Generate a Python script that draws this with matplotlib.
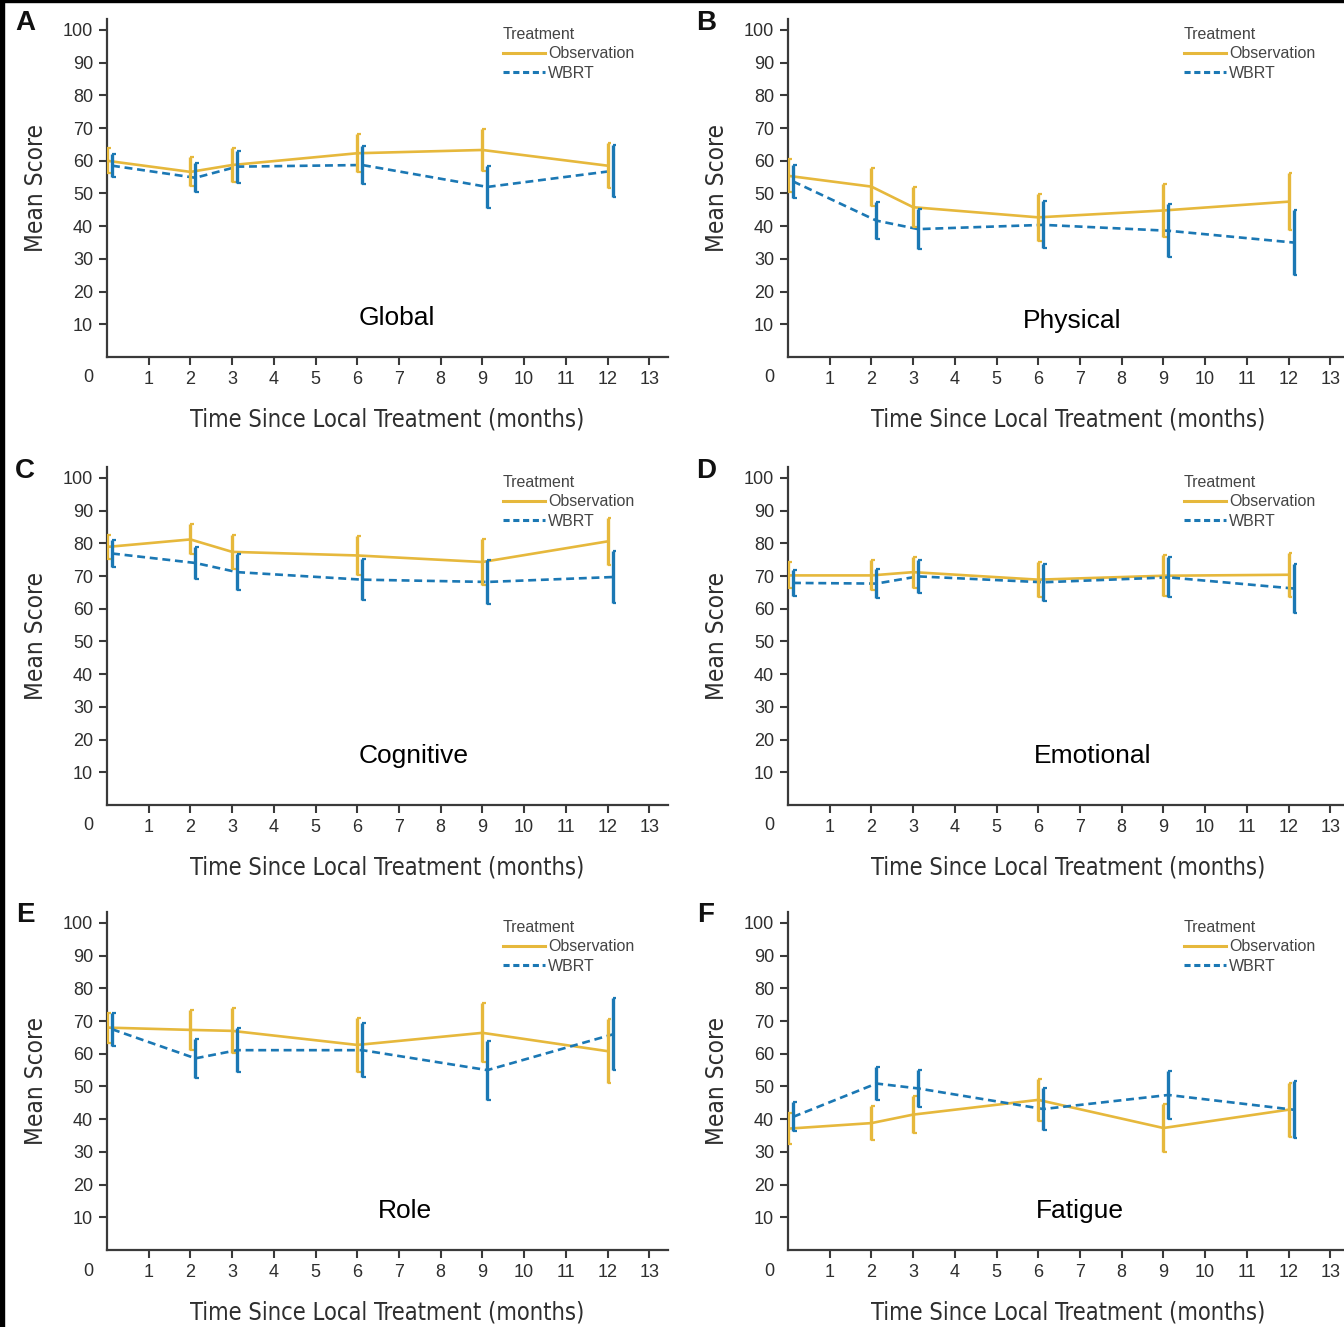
import matplotlib
matplotlib.use("Agg")
from matplotlib import pyplot as plt
from matplotlib.patches import Rectangle

months = [0, 2, 3, 6, 9, 12]
wbrt_shift = 0.12

panel_letters = ['A', 'B', 'C', 'D', 'E', 'F']
panel_names = ['Global', 'Physical', 'Cognitive', 'Emotional', 'Role', 'Fatigue']

obs_mean = [
    [60.0, 56.6, 58.7, 62.3, 63.3, 58.5],
    [55.4, 52.1, 45.8, 42.7, 44.8, 47.5],
    [78.9, 81.2, 77.4, 76.3, 74.3, 80.6],
    [70.2, 70.2, 71.2, 68.9, 70.1, 70.4],
    [68.0, 67.3, 67.0, 62.7, 66.4, 60.8],
    [37.1, 38.8, 41.4, 45.9, 37.3, 42.9],
]
obs_err = [
    [3.8, 4.4, 5.2, 5.8, 6.5, 6.9],
    [5.1, 5.8, 6.1, 7.2, 8.0, 8.8],
    [3.8, 4.6, 5.1, 6.0, 6.9, 7.3],
    [4.0, 4.6, 4.7, 5.4, 6.2, 6.7],
    [4.6, 6.2, 6.9, 8.3, 9.0, 9.8],
    [4.7, 5.2, 5.7, 6.4, 7.3, 8.2],
]
wbrt_mean = [
    [58.5, 54.8, 58.2, 58.7, 52.0, 56.9],
    [53.7, 41.7, 39.1, 40.4, 38.6, 35.0],
    [76.9, 74.0, 71.2, 68.9, 68.2, 69.7],
    [67.9, 67.7, 69.9, 68.1, 69.6, 66.2],
    [67.5, 58.6, 61.1, 61.1, 55.0, 65.9],
    [40.7, 50.9, 49.4, 43.1, 47.4, 42.9],
]
wbrt_err = [
    [3.6, 4.5, 4.9, 5.9, 6.4, 7.9],
    [5.0, 5.6, 6.2, 7.2, 8.1, 9.9],
    [4.1, 5.0, 5.5, 6.2, 6.6, 8.0],
    [3.9, 4.4, 5.0, 5.7, 6.1, 7.4],
    [5.0, 6.0, 6.8, 8.3, 9.0, 11.0],
    [4.4, 5.0, 5.7, 6.5, 7.2, 8.7],
]
name_pos = [(6.95, 12), (6.8, 11), (7.35, 15), (7.3, 15), (7.15, 12), (7.0, 12)]

yticks = list(range(10, 101, 10))
xticks = list(range(1, 14))

gold = '#E6B83C'
blue = '#1B78B4'
ink = '#2e2e2e'
W, H = 1344, 1327

plain = ['Liberation Sans', 'DejaVu Sans']
plt.rcParams['font.family'] = plain


def draw_series(ax, x, mean, err, color, style):
    ax.plot(x, mean, color=color, lw=1.9, linestyle=style, zorder=3)
    lo = [m - e for m, e in zip(mean, err)]
    hi = [m + e for m, e in zip(mean, err)]
    ax.vlines(x, lo, hi, color=color, lw=2.4, zorder=4)
    right = [v + 0.09 for v in x]
    ax.hlines(lo, x, right, color=color, lw=1.6, zorder=4)
    ax.hlines(hi, x, right, color=color, lw=1.6, zorder=4)


fig = plt.figure(figsize=(W / 100, H / 100), dpi=100)
fig.patches.append(Rectangle((0, 0), 4 / W, 1, transform=fig.transFigure,
                             color='black', zorder=10))
fig.patches.append(Rectangle((0, 1 - 2 / H), 1, 2 / H, transform=fig.transFigure,
                             color='black', zorder=10))

lefts = [107, 788]
bottoms = [357, 805, 1250]
ax_w, ax_h = 561, 338.5

for i in range(6):
    row, col = divmod(i, 2)
    ax = fig.add_axes([lefts[col] / W, (H - bottoms[row]) / H, ax_w / W, ax_h / H])
    ax.set_xlim(0, 13.45)
    ax.set_ylim(0, 103.5)

    draw_series(ax, months, obs_mean[i], obs_err[i], gold, '-')
    wx = [m + wbrt_shift for m in months]
    draw_series(ax, wx, wbrt_mean[i], wbrt_err[i], blue, (0, (3, 1.8)))

    for s in ['top', 'right']:
        ax.spines[s].set_visible(False)
    for s in ['left', 'bottom']:
        ax.spines[s].set_linewidth(1.6)
        ax.spines[s].set_color('#3a3a3a')

    ax.set_xticks(xticks)
    ax.set_yticks(yticks)
    ax.tick_params(axis='both', direction='out', length=6, width=1.5,
                   colors='#3a3a3a', labelcolor=ink, labelsize=13, pad=4)
    ax.annotate('0', xy=(0, 0), xycoords='axes fraction', xytext=(-19, -21),
                textcoords='offset pixels', ha='center', va='center',
                fontsize=13, color=ink)

    ax.set_xlabel('Time Since Local Treatment (months)', family='DejaVu Sans',
                  fontstretch='condensed', fontsize=17, color=ink, labelpad=14)
    ax.set_ylabel('Mean Score', family='DejaVu Sans', fontstretch='condensed',
                  fontsize=17.5, color=ink, labelpad=11)

    ax.text(name_pos[i][0], name_pos[i][1], panel_names[i], fontsize=19,
            color='black', ha='center', va='center')
    ax.annotate(panel_letters[i], xy=(0, 1), xycoords='axes fraction',
                xytext=(-82, -4), textcoords='offset pixels', fontsize=20,
                fontweight='bold', color='#111111', ha='center', va='center')

    h_obs, = ax.plot([], [], color=gold, lw=2.2, label='Observation')
    h_wb, = ax.plot([], [], color=blue, lw=2.2, linestyle=(0, (2, 1.2)), label='WBRT')
    leg = ax.legend(handles=[h_obs, h_wb], title='Treatment', loc='upper left',
                    bbox_to_anchor=(0.706, 0.975),
                    frameon=False, fontsize=11.5, title_fontsize=11.5,
                    handlelength=2.6, handletextpad=0.2, labelspacing=0.28,
                    borderpad=0, borderaxespad=0, alignment='left')
    for t in leg.get_texts():
        t.set_color('#444444')
    leg.get_title().set_color('#444444')

fig.savefig('out.png', dpi=100, facecolor='white')
